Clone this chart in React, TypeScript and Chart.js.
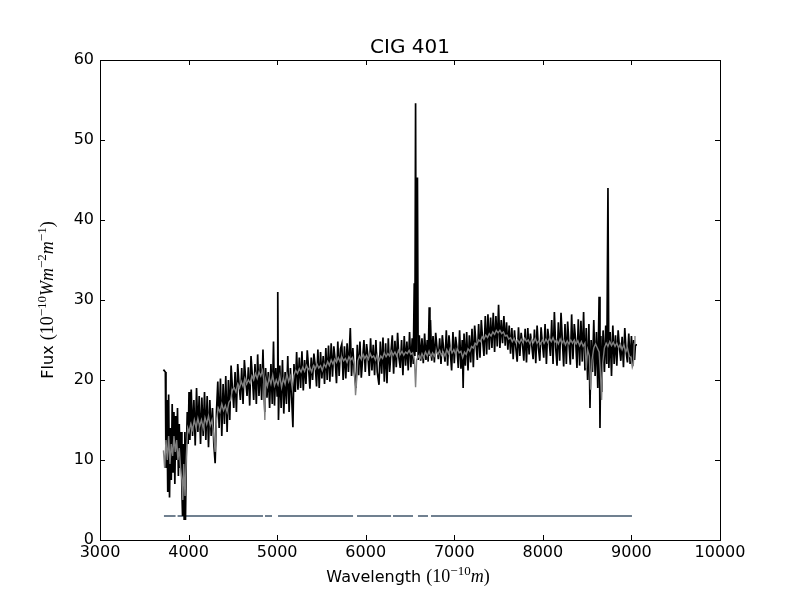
import { useEffect, useRef } from 'react';
import { Chart, registerables } from 'chart.js';

Chart.register(...registerables);

// observed spectrum (black)
const obsWavelength = [
  3716, 3738, 3745, 3755, 3765, 3775, 3785, 3795, 3805, 3815,
  3825, 3835, 3845, 3855, 3865, 3875, 3885, 3895, 3905, 3915,
  3925, 3932, 3940, 3950, 3958, 3965, 3975, 3985, 3995, 4005,
  4015, 4030, 4045, 4060, 4075, 4090, 4105, 4120, 4135, 4150,
  4165, 4180, 4195, 4210, 4225, 4240, 4255, 4270, 4285, 4300,
  4315, 4330, 4345, 4360, 4375, 4390, 4405, 4420, 4435, 4450,
  4465, 4480, 4495, 4510, 4525, 4540, 4555, 4570, 4585, 4600,
  4615, 4630, 4645, 4660, 4675, 4690, 4705, 4720, 4735, 4750,
  4765, 4780, 4795, 4810, 4825, 4840, 4852, 4861, 4870, 4885,
  4900, 4915, 4930, 4945, 4959, 4970, 4985, 5000, 5007, 5015,
  5030, 5045, 5060, 5075, 5090, 5105, 5120, 5135, 5150, 5165,
  5178, 5190, 5205, 5220, 5235, 5250, 5265, 5280, 5295, 5310,
  5325, 5340, 5355, 5370, 5385, 5400, 5415, 5430, 5445, 5460,
  5475, 5490, 5505, 5520, 5535, 5550, 5565, 5580, 5595, 5610,
  5625, 5640, 5655, 5670, 5685, 5700, 5715, 5730, 5745, 5760,
  5775, 5790, 5805, 5826, 5840, 5855, 5870, 5890, 5905, 5920,
  5935, 5950, 5965, 5980, 5995, 6010, 6025, 6040, 6055, 6070,
  6085, 6100, 6115, 6130, 6150, 6165, 6180, 6195, 6210, 6225,
  6240, 6255, 6270, 6285, 6300, 6315, 6330, 6345, 6360, 6375,
  6390, 6405, 6420, 6435, 6450, 6465, 6480, 6495, 6510, 6525,
  6537, 6548, 6555, 6563, 6570, 6584, 6592, 6605, 6620, 6635,
  6650, 6665, 6680, 6695, 6705, 6717, 6725, 6731, 6745, 6760,
  6775, 6790, 6805, 6820, 6835, 6850, 6865, 6880, 6895, 6910,
  6925, 6940, 6955, 6970, 6985, 7000, 7015, 7030, 7045, 7060,
  7075, 7090, 7100, 7110, 7125, 7140, 7155, 7170, 7185, 7200,
  7215, 7230, 7245, 7260, 7275, 7290, 7305, 7320, 7335, 7350,
  7365, 7380, 7395, 7410, 7425, 7440, 7455, 7470, 7485, 7500,
  7515, 7530, 7545, 7560, 7575, 7590, 7605, 7620, 7635, 7650,
  7665, 7680, 7695, 7710, 7725, 7740, 7755, 7770, 7785, 7800,
  7815, 7830, 7845, 7860, 7875, 7890, 7905, 7920, 7935, 7950,
  7965, 7980, 7995, 8010, 8025, 8040, 8055, 8070, 8085, 8100,
  8115, 8130, 8145, 8160, 8175, 8190, 8205, 8220, 8235, 8250,
  8265, 8280, 8295, 8310, 8325, 8340, 8355, 8370, 8385, 8400,
  8415, 8430, 8445, 8460, 8475, 8490, 8505, 8520, 8532, 8545,
  8560, 8575, 8590, 8605, 8620, 8635, 8645, 8655, 8665, 8680,
  8695, 8710, 8722, 8735, 8745, 8760, 8775, 8790, 8805, 8820,
  8835, 8850, 8865, 8880, 8895, 8910, 8925, 8940, 8955, 8970,
  8985, 9000, 9015, 9025, 9035, 9045, 9063,
];

const obsFlux = [
  21.3, 21.0, 9.0, 17.5, 6.0, 18.2, 5.3, 14.0, 7.5, 17.0,
  8.5, 16.0, 7.0, 15.5, 10.0, 16.5, 8.0, 14.5, 9.0, 13.5,
  6.0, 3.0, 12.0, 2.6, 13.5, 2.5, 11.0, 16.0, 12.0, 18.5,
  12.5, 18.8, 13.0, 17.5, 11.8, 19.0, 13.5, 18.0, 12.0, 17.8,
  13.0, 18.5, 12.5, 18.0, 11.6, 17.5, 13.0, 16.5, 12.0, 9.6,
  16.0, 19.8, 14.0, 20.2, 13.0, 19.5, 14.5, 20.5, 13.5, 20.0,
  15.0, 21.8, 19.0, 16.5, 21.0, 16.0, 22.0, 19.5, 17.5, 21.5,
  17.0, 22.5, 20.0, 18.0, 21.6, 16.8, 23.0, 20.5, 17.5, 22.0,
  17.0, 23.2, 18.0, 22.0, 17.5, 23.8, 18.5, 16.0, 21.5, 17.8,
  21.0, 16.5, 22.0, 17.0, 24.8, 16.8, 21.5, 18.0, 31.0, 15.0,
  21.8, 16.5, 22.5, 15.8, 21.0, 17.0, 23.0, 16.0, 21.5, 17.5,
  14.1, 22.0, 18.5, 23.5, 18.8, 22.8, 19.0, 23.6, 18.7, 22.5,
  19.5, 23.7, 21.5, 18.9, 22.8, 20.0, 23.3, 21.8, 19.2, 23.8,
  19.0, 23.5, 20.2, 23.0, 19.5, 24.0, 20.0, 24.3, 19.8, 24.6,
  20.4, 24.2, 22.5, 19.6, 24.8, 20.5, 23.9, 24.5, 20.0, 24.2,
  20.2, 24.6, 21.0, 26.5, 20.5, 24.0, 21.0, 19.0, 24.4, 20.6,
  24.8, 20.3, 22.6, 25.0, 21.0, 24.5, 23.0, 20.5, 25.2, 21.2,
  24.4, 20.6, 25.0, 21.0, 19.4, 24.8, 20.8, 25.3, 19.8, 24.6,
  19.6, 25.2, 21.0, 23.5, 25.6, 20.8, 24.9, 21.6, 25.9, 22.8,
  21.5, 25.0, 20.6, 25.5, 21.8, 24.8, 21.2, 26.0, 21.6, 25.2,
  22.0, 32.1, 23.0, 54.6, 23.5, 45.3, 22.5, 25.6, 22.4, 25.2,
  22.1, 25.8, 22.5, 25.0, 22.3, 29.1, 23.0, 27.5, 22.4, 25.5,
  22.2, 25.9, 24.0, 22.6, 25.2, 22.0, 25.6, 23.8, 22.3, 26.2,
  21.8, 25.6, 23.5, 21.2, 26.0, 22.1, 25.4, 24.0, 21.5, 26.2,
  21.4, 25.0, 19.0, 25.8, 21.8, 26.0, 21.2, 25.6, 22.2, 26.4,
  21.6, 26.8, 24.5, 22.5, 27.0, 22.8, 27.5, 25.0, 23.0, 28.0,
  23.2, 28.2, 23.8, 27.8, 24.0, 28.4, 23.5, 28.0, 24.2, 29.4,
  24.0, 27.5, 24.6, 28.0, 24.3, 27.2, 23.8, 26.8, 23.3, 26.5,
  22.6, 26.2, 24.0, 22.3, 26.6, 23.0, 25.9, 24.5, 22.4, 26.4,
  22.2, 26.5, 23.2, 25.8, 24.3, 22.6, 26.3, 22.1, 26.8, 24.0,
  22.4, 26.6, 24.5, 22.8, 27.0, 22.0, 26.4, 25.0, 23.0, 27.5,
  22.0, 28.5, 24.0, 21.8, 27.2, 22.4, 28.4, 25.0, 21.7, 27.0,
  22.0, 27.3, 24.5, 21.9, 28.2, 22.6, 27.0, 25.0, 21.5, 27.6,
  21.8, 27.4, 22.3, 28.5, 21.2, 26.5, 20.0, 27.0, 16.5, 25.0,
  21.0, 27.5, 20.5, 26.0, 19.0, 30.4, 14.0, 25.5, 18.5, 26.2,
  21.0, 26.8, 22.0, 44.0, 21.5, 26.0, 20.5, 26.8, 22.0, 25.6,
  21.8, 26.2, 24.0, 22.4, 25.4, 21.6, 26.5, 23.5, 22.2, 25.8,
  22.0, 25.5, 21.8, 25.0, 22.5, 24.4, 24.4,
];

// fitted model spectrum (grey)
const modelWavelength = [
  3716, 3730, 3745, 3760, 3775, 3790, 3805, 3820, 3835, 3850,
  3865, 3880, 3895, 3910, 3925, 3935, 3945, 3960, 3975, 3990,
  4005, 4025, 4045, 4065, 4085, 4105, 4125, 4145, 4165, 4185,
  4205, 4225, 4245, 4265, 4285, 4300, 4315, 4335, 4355, 4375,
  4395, 4415, 4435, 4455, 4475, 4495, 4515, 4535, 4555, 4575,
  4595, 4615, 4635, 4655, 4675, 4695, 4715, 4735, 4755, 4775,
  4795, 4815, 4835, 4850, 4861, 4872, 4890, 4910, 4930, 4950,
  4970, 4990, 5010, 5030, 5050, 5070, 5090, 5110, 5130, 5150,
  5170, 5190, 5210, 5230, 5250, 5270, 5290, 5310, 5330, 5350,
  5370, 5390, 5410, 5430, 5450, 5470, 5490, 5510, 5530, 5550,
  5570, 5590, 5610, 5630, 5650, 5670, 5690, 5710, 5730, 5750,
  5770, 5790, 5810, 5830, 5850, 5870, 5885, 5895, 5910, 5930,
  5950, 5970, 5990, 6010, 6030, 6050, 6070, 6090, 6110, 6130,
  6150, 6170, 6190, 6210, 6230, 6250, 6270, 6290, 6310, 6330,
  6350, 6370, 6390, 6410, 6430, 6450, 6470, 6490, 6510, 6530,
  6550, 6563, 6575, 6595, 6615, 6635, 6655, 6675, 6695, 6715,
  6735, 6755, 6775, 6795, 6815, 6835, 6855, 6875, 6895, 6915,
  6935, 6955, 6975, 6995, 7015, 7035, 7055, 7075, 7095, 7115,
  7135, 7155, 7175, 7195, 7215, 7235, 7255, 7275, 7295, 7315,
  7335, 7355, 7375, 7395, 7415, 7435, 7455, 7475, 7495, 7515,
  7535, 7555, 7575, 7595, 7615, 7635, 7655, 7675, 7695, 7715,
  7735, 7755, 7775, 7795, 7815, 7835, 7855, 7875, 7895, 7915,
  7935, 7955, 7975, 7995, 8015, 8035, 8055, 8075, 8095, 8115,
  8135, 8155, 8175, 8195, 8215, 8235, 8255, 8275, 8295, 8315,
  8335, 8355, 8375, 8395, 8415, 8435, 8455, 8475, 8490, 8505,
  8525, 8540, 8555, 8575, 8595, 8615, 8635, 8650, 8663, 8675,
  8695, 8715, 8735, 8755, 8775, 8795, 8815, 8835, 8855, 8875,
  8895, 8915, 8935, 8955, 8975, 8995, 9010, 9022, 9032, 9040,
];

const modelFlux = [
  11.2, 9.0, 12.5, 10.0, 13.0, 9.5, 12.0, 10.5, 13.0, 11.0,
  12.5, 10.0, 11.5, 9.0, 7.5, 5.0, 9.5, 5.5, 10.5, 14.0,
  13.5, 14.5, 13.8, 15.0, 14.0, 15.2, 14.2, 15.0, 14.0, 15.3,
  14.5, 15.5, 14.3, 15.0, 13.0, 11.0, 15.0, 16.5, 16.0, 17.0,
  16.2, 16.8, 16.0, 17.2, 17.5, 18.8, 19.0, 18.5, 19.5, 19.0,
  19.8, 19.2, 20.2, 19.5, 20.0, 19.6, 20.5, 20.0, 20.8, 20.2,
  21.0, 20.5, 21.2, 20.0, 15.0, 20.0, 19.2, 20.3, 19.5, 20.6,
  19.3, 20.0, 19.4, 20.5, 19.1, 20.2, 19.5, 20.8, 19.8, 20.5,
  19.0, 20.6, 21.2, 20.8, 21.4, 21.0, 21.6, 21.1, 21.8, 21.3,
  21.6, 21.0, 21.8, 21.4, 22.0, 21.5, 21.8, 21.2, 22.0, 21.6,
  22.3, 21.8, 22.5, 22.0, 22.6, 22.2, 22.8, 22.3, 22.9, 22.4,
  22.7, 22.2, 22.9, 22.5, 22.8, 22.0, 18.1, 19.5, 22.4, 23.0,
  22.6, 23.2, 22.7, 23.1, 22.6, 23.3, 22.8, 23.0, 22.5, 23.2,
  22.4, 23.0, 22.7, 23.4, 22.9, 23.3, 23.0, 23.6, 23.1, 23.5,
  23.0, 23.7, 23.2, 23.6, 23.1, 23.5, 23.3, 23.7, 23.2, 23.4,
  22.5, 19.1, 22.5, 23.0, 22.7, 23.3, 22.8, 23.5, 23.0, 23.6,
  22.9, 23.4, 23.0, 23.6, 23.2, 23.7, 23.1, 23.5, 23.0, 23.8,
  23.3, 24.0, 23.4, 23.8, 23.2, 23.9, 23.4, 23.6, 22.8, 23.5,
  23.2, 23.9, 23.6, 24.2, 24.0, 24.6, 24.4, 25.0, 24.8, 25.4,
  25.1, 25.6, 25.3, 25.8, 25.5, 26.0, 25.7, 26.2, 25.9, 26.2,
  25.8, 26.0, 25.5, 25.6, 25.1, 25.3, 24.8, 25.2, 24.7, 25.0,
  24.6, 25.1, 24.7, 25.2, 24.8, 25.0, 24.5, 25.1, 24.7, 25.2,
  24.6, 24.9, 24.5, 25.0, 24.6, 25.1, 24.7, 25.2, 24.8, 25.3,
  24.7, 25.0, 24.5, 25.1, 24.6, 25.0, 24.4, 24.9, 24.5, 25.0,
  24.6, 25.0, 24.5, 24.9, 24.3, 24.8, 24.2, 24.6, 21.5, 23.8,
  23.0, 18.8, 22.5, 24.0, 24.5, 24.0, 23.5, 21.0, 17.5, 22.0,
  24.0, 24.6, 24.2, 24.8, 24.3, 24.7, 24.2, 24.6, 24.0, 24.5,
  23.8, 24.4, 23.5, 24.0, 23.0, 22.8, 21.6, 22.0, 24.5, 25.5,
];

// good-pixel mask drawn as a broken line near the bottom
const maskStart = [3722, 3876, 4863, 5010, 5902, 6308, 6590, 6737];
const maskEnd = [3853, 4840, 4942, 5857, 6286, 6534, 6703, 9006];
const maskLevel = 3;

const xTickStep = 1000;
const yTickStep = 10;

const sans = '"DejaVu Sans", sans-serif';
const serif = '"Liberation Serif", "DejaVu Serif", serif';

type Run = { text: string; font: string; rise?: number };

const xLabelRuns: Run[] = [
  { text: 'Wavelength ', font: `16px ${sans}` },
  { text: '(10', font: `18px ${serif}` },
  { text: '\u221210', font: `13px ${serif}`, rise: 7 },
  { text: 'm', font: `italic 18px ${serif}` },
  { text: ')', font: `18px ${serif}` },
];

const yLabelRuns: Run[] = [
  { text: 'Flux ', font: `16px ${sans}` },
  { text: '(10', font: `18px ${serif}` },
  { text: '\u221210', font: `13px ${serif}`, rise: 7 },
  { text: 'Wm', font: `italic 18px ${serif}` },
  { text: '\u22122', font: `13px ${serif}`, rise: 7 },
  { text: 'm', font: `italic 18px ${serif}` },
  { text: '\u22121', font: `13px ${serif}`, rise: 7 },
  { text: ')', font: `18px ${serif}` },
];

function drawRuns(ctx: CanvasRenderingContext2D, runs: Run[], cx: number, baseline: number) {
  const widths = runs.map((r) => {
    ctx.font = r.font;
    return ctx.measureText(r.text).width;
  });
  const total = widths.reduce((a, b) => a + b, 0);
  let x = cx - total / 2;
  runs.forEach((r, i) => {
    ctx.font = r.font;
    ctx.fillText(r.text, x, baseline - (r.rise || 0));
    x += widths[i];
  });
}

// matplotlib-like box with inward ticks on every side, title and axis labels
const mplFrame = {
  id: 'mplFrame',
  afterDraw(chart: any) {
    const { ctx, chartArea: a, scales } = chart;
    const tick = 5;
    ctx.save();
    ctx.strokeStyle = '#000';
    ctx.lineWidth = 1;
    ctx.beginPath();
    scales.x.ticks.forEach((t: any) => {
      const px = Math.round(scales.x.getPixelForValue(t.value)) + 0.5;
      ctx.moveTo(px, a.bottom);
      ctx.lineTo(px, a.bottom - tick);
      ctx.moveTo(px, a.top);
      ctx.lineTo(px, a.top + tick);
    });
    scales.y.ticks.forEach((t: any) => {
      const py = Math.round(scales.y.getPixelForValue(t.value)) + 0.5;
      ctx.moveTo(a.left, py);
      ctx.lineTo(a.left + tick, py);
      ctx.moveTo(a.right, py);
      ctx.lineTo(a.right - tick, py);
    });
    ctx.stroke();
    ctx.strokeRect(Math.round(a.left) + 0.5, Math.round(a.top) + 0.5, Math.round(a.right - a.left), Math.round(a.bottom - a.top));

    ctx.fillStyle = '#000';
    ctx.textBaseline = 'alphabetic';
    ctx.textAlign = 'left';
    const cx = (a.left + a.right) / 2;
    ctx.font = `20px ${sans}`;
    const title = 'CIG 401';
    ctx.fillText(title, cx - ctx.measureText(title).width / 2, a.top - 7);

    drawRuns(ctx, xLabelRuns, cx - 2, a.bottom + 42);

    ctx.translate(a.left - 47, (a.top + a.bottom) / 2);
    ctx.rotate(-Math.PI / 2);
    drawRuns(ctx, yLabelRuns, 0, 0);
    ctx.restore();
  },
};

export default function App() {
  const canvasRef = useRef<HTMLCanvasElement>(null);

  useEffect(() => {
    if (!canvasRef.current) return;

    const toPoints = (xs: number[], ys: number[]) => xs.map((x, i) => ({ x, y: ys[i] }));
    const maskPoints: { x: number; y: number | null }[] = [];
    maskStart.forEach((s, i) => {
      maskPoints.push({ x: s, y: maskLevel }, { x: maskEnd[i], y: maskLevel }, { x: maskEnd[i], y: null });
    });

    const chart = new Chart(canvasRef.current, {
      type: 'line',
      data: {
        datasets: [
          {
            label: 'Model',
            data: toPoints(modelWavelength, modelFlux),
            borderColor: '#808080',
            borderWidth: 1.4,
            pointRadius: 0,
            tension: 0,
            order: 0,
          },
          {
            label: 'Observed',
            data: toPoints(obsWavelength, obsFlux),
            borderColor: '#000000',
            borderWidth: 1.7,
            pointRadius: 0,
            tension: 0,
            order: 1,
          },
          {
            label: 'Mask',
            data: maskPoints,
            borderColor: '#708090',
            borderWidth: 2,
            pointRadius: 0,
            spanGaps: false,
            order: 2,
          },
        ],
      },
      plugins: [mplFrame],
      options: {
        animation: false,
        responsive: false,
        devicePixelRatio: 1,
        layout: { padding: { top: 60, right: 80, bottom: 0, left: 0 } },
        plugins: {
          legend: { display: false },
          tooltip: { enabled: false },
          title: { display: false },
        },
        scales: {
          x: {
            type: 'linear',
            min: 3000,
            max: 10000,
            afterFit: (scale: any) => {
              scale.height = 60;
            },
            grid: { display: false, drawTicks: false },
            border: { display: false },
            ticks: {
              stepSize: xTickStep,
              padding: 3,
              color: '#000',
              font: { family: sans, size: 16 },
              maxRotation: 0,
              callback: (v: any) => String(v),
            },
          },
          y: {
            min: 0,
            max: 60,
            afterFit: (scale: any) => {
              scale.width = 100;
            },
            grid: { display: false, drawTicks: false },
            border: { display: false },
            ticks: {
              stepSize: yTickStep,
              padding: 6,
              color: '#000',
              font: { family: sans, size: 16 },
              callback: (v: any) => String(v),
            },
          },
        },
      },
    });

    return () => {
      chart.destroy();
    };
  }, []);

  return (
    <div style={{ position: 'fixed', left: 0, top: 0, width: 800, height: 600, background: '#fff' }}>
      <canvas ref={canvasRef} width={800} height={600} />
    </div>
  );
}
